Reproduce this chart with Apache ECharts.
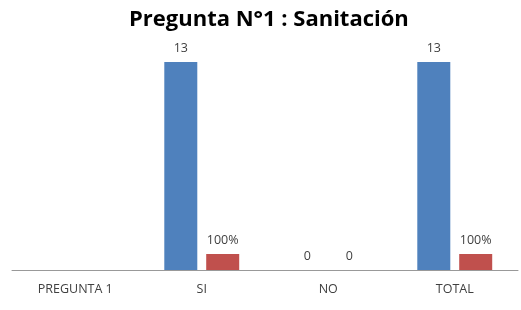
<!DOCTYPE html>
<html>
<head>
<meta charset="utf-8">
<script src="https://cdn.jsdelivr.net/npm/echarts@6/dist/echarts.min.js"></script>
<style>
  html, body { margin: 0; padding: 0; background: #fff; }
  #chart { width: 521px; height: 310px; }
</style>
</head>
<body>
<div id="chart"></div>
<script>
  // categorias y valores
  const categorias = ['PREGUNTA 1', 'SI', 'NO', 'TOTAL']
  const cantidad = [null, 13, 0, 13]
  const porcentaje = [null, 1, 0, 1]

  const chart = echarts.init(document.getElementById('chart'))
  const fuente = '"Open Sans", "Liberation Sans", sans-serif'

  chart.setOption({
    animation: false,
    title: {
      text: 'Pregunta N°1 : Sanitación',
      left: 124,
      top: 4,
      textStyle: { fontFamily: fuente, fontWeight: 'bold', fontSize: 22, color: '#000' }
    },
    grid: { left: 12, right: 3, top: 62, bottom: 40 },
    xAxis: {
      type: 'category',
      data: categorias,
      axisTick: { show: false },
      axisLine: { lineStyle: { color: '#999', width: 1 } },
      axisLabel: { fontFamily: fuente, fontSize: 12.5, color: '#404040', margin: 13 }
    },
    yAxis: {
      type: 'value',
      min: 0,
      max: 13,
      show: false,
      splitLine: { show: false }
    },
    series: [
      {
        type: 'bar',
        data: cantidad,
        barWidth: 33,
        barGap: '27%',
        itemStyle: { color: '#4f81bd' },
        label: {
          show: true,
          position: 'top',
          distance: 7,
          fontFamily: fuente,
          fontSize: 12.5,
          color: '#404040'
        }
      },
      {
        type: 'bar',
        data: porcentaje,
        barWidth: 33,
        itemStyle: { color: '#c0504d' },
        label: {
          show: true,
          position: 'top',
          distance: 7,
          fontFamily: fuente,
          fontSize: 12.5,
          color: '#404040',
          formatter: p => p.value === 0 ? '0' : Math.round(p.value * 100) + '%'
        }
      }
    ]
  })
</script>
</body>
</html>
